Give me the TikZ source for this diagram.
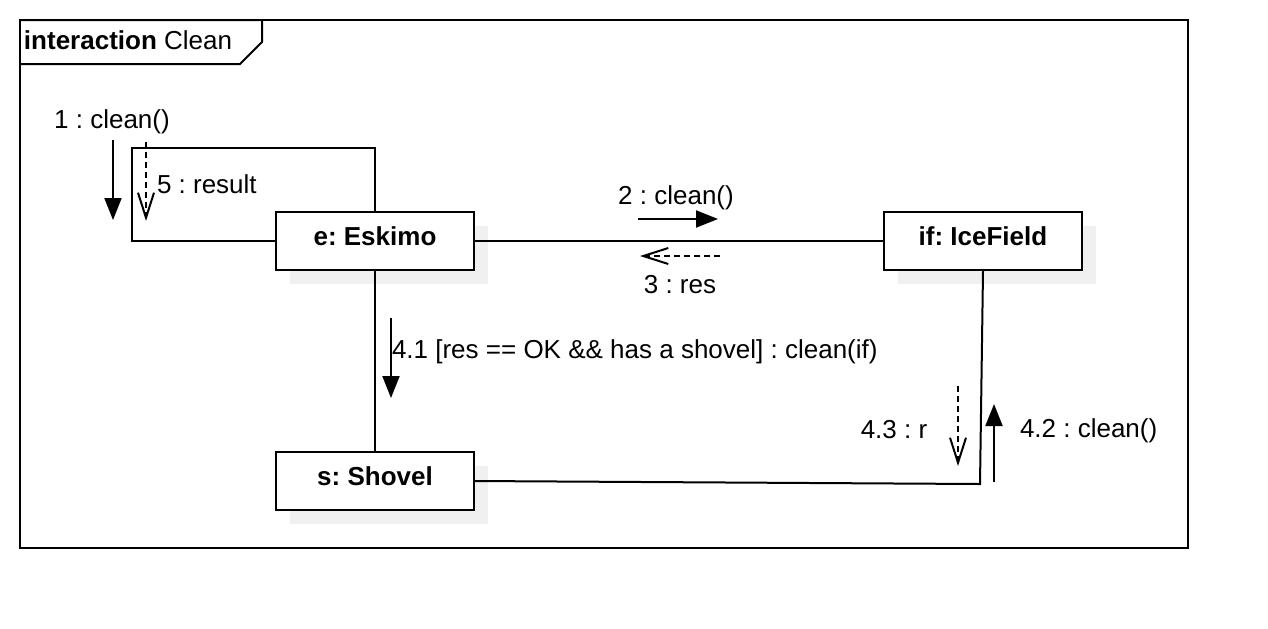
\documentclass[tikz,border=0pt]{standalone}
\usepackage{fontspec}
\setmainfont{Liberation Sans}
\usetikzlibrary{arrows.meta,shadows}
\frenchspacing
\begin{document}
\begin{tikzpicture}[x=0.5pt,y=-0.5pt,line width=1pt,
  obj/.style={draw,fill=white,minimum width=99pt,minimum height=29pt,inner sep=0pt,
    text height=9.3pt,text depth=5pt,
    font=\fontsize{13}{15}\selectfont\bfseries,
    general shadow={fill=black!6,shadow xshift=7pt,shadow yshift=-7pt}},
  msg/.style={font=\fontsize{13}{15}\selectfont,inner sep=0pt},
  callarrow/.style={-{Triangle[length=11pt,width=8.5pt]}},
  retarrow/.style={dash pattern=on 3pt off 2pt,-{Straight Barb[length=12.5pt,width=8pt]}}]
\useasboundingbox (0,0) rectangle (1268,628);
% frame
\draw (20,20) rectangle (1188,548);
\draw (20,20) -- (262,20) -- (262,42) -- (240,64) -- (20,64);
\node[msg,anchor=west] (title) at (23,40) {\textbf{interaction} Clean};
% objects
\node[obj] (E) at (375,241) {e: Eskimo};
\node[obj] (I) at (983,241) {if: IceField};
\node[obj] (S) at (375,481) {s: Shovel};
% links
\coordinate (loopc) at (132,148);
\coordinate (bend) at (980,484);
\draw (E.west) -| (loopc) -| (E.north);
\draw (E.east) -- (I.west);
\draw (E.south) -- (S.north);
\draw (S.east) -- (bend) -- (I.south);
% message 1 / 5
\coordinate (m1a) at (113,140); \coordinate (m1b) at (113,220);
\draw[callarrow] (m1a) -- (m1b);
\node[msg] (l1) at (112,122) {1 : clean()};
\coordinate (m5a) at (146,142); \coordinate (m5b) at (146,221);
\draw[retarrow] (m5a) -- (m5b);
\node[msg,anchor=west] (l5) at (156,184) {5 : result};
% message 2 / 3
\coordinate (m2a) at (638,219); \coordinate (m2b) at (718,219);
\draw[callarrow] (m2a) -- (m2b);
\node[msg] (l2) at (676,198) {2 : clean()};
\coordinate (m3a) at (720,256); \coordinate (m3b) at (640,256);
\draw[retarrow] (m3a) -- (m3b);
\node[msg] (l3) at (680,285) {3 : res};
% message 4.1
\coordinate (m41a) at (391,318); \coordinate (m41b) at (391,398);
\draw[callarrow] (m41a) -- (m41b);
\node[msg,anchor=west] (l41) at (391,352) {4.1 [res == OK \&\& has a shovel] : clean(if)};
% message 4.2 / 4.3
\coordinate (m43a) at (958,386); \coordinate (m43b) at (958,466);
\draw[retarrow] (m43a) -- (m43b);
\node[msg] (l43) at (894,430) {4.3 : r};
\coordinate (m42a) at (994,482); \coordinate (m42b) at (994,404);
\draw[callarrow] (m42a) -- (m42b);
\node[msg,anchor=west] (l42) at (1019,431) {4.2 : clean()};
\end{tikzpicture}
\end{document}
